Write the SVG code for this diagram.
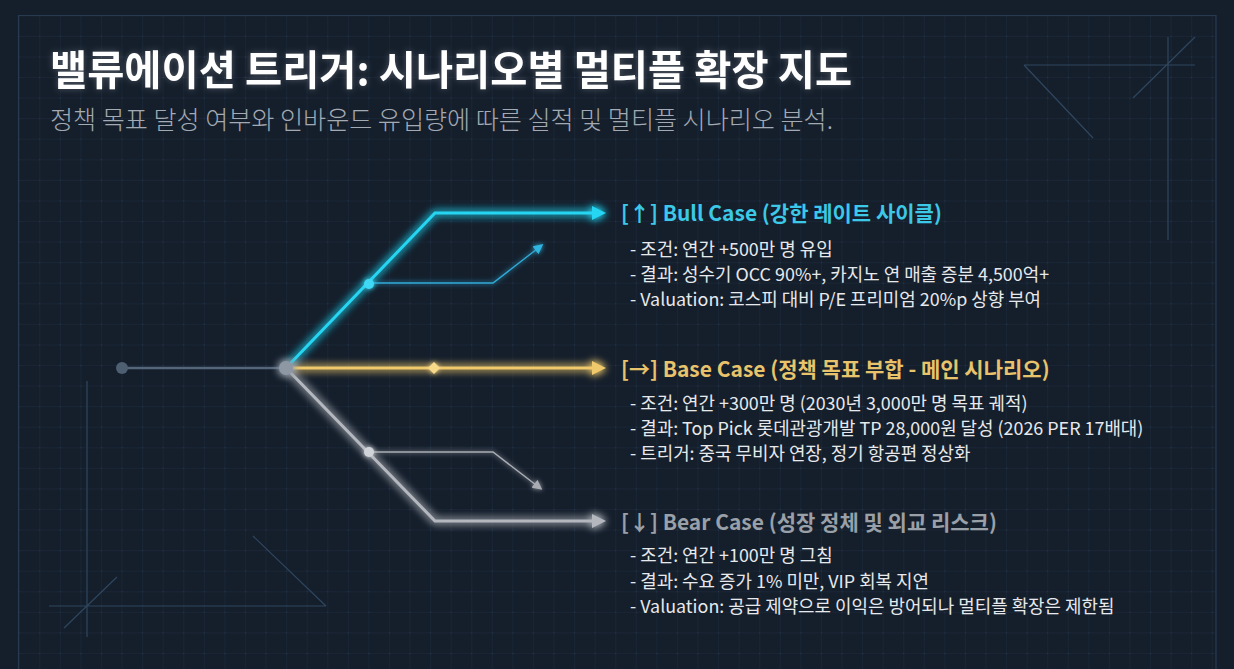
<svg xmlns="http://www.w3.org/2000/svg" width="1234" height="669" viewBox="0 0 1234 669">
  <defs>
    <pattern id="grid" patternUnits="userSpaceOnUse" x="18.7" y="15.3" width="20.57" height="20.57">
      <path d="M0,0 H20.57 M0,0 V20.57" fill="none" stroke="#22334a" stroke-width="1" opacity="0.55"/>
      <circle cx="0" cy="0" r="1" fill="#2c4058"/>
    </pattern>
    <clipPath id="frameClip"><rect x="18.5" y="15.5" width="1197.5" height="660"/></clipPath>
    <filter id="glow" filterUnits="userSpaceOnUse" x="0" y="0" width="1234" height="669">
      <feGaussianBlur stdDeviation="4" result="b"/>
      <feMerge><feMergeNode in="b"/><feMergeNode in="b"/><feMergeNode in="SourceGraphic"/></feMerge>
    </filter>
    <filter id="soft" filterUnits="userSpaceOnUse" x="0" y="0" width="1234" height="669">
      <feGaussianBlur stdDeviation="2.5" result="b"/>
      <feMerge><feMergeNode in="b"/><feMergeNode in="SourceGraphic"/></feMerge>
    </filter>
    <filter id="tglow" filterUnits="userSpaceOnUse" x="0" y="0" width="1234" height="669">
      <feGaussianBlur in="SourceAlpha" stdDeviation="3" result="b"/>
      <feFlood flood-color="#ffffff" flood-opacity="0.25"/>
      <feComposite in2="b" operator="in" result="g"/>
      <feMerge><feMergeNode in="g"/><feMergeNode in="SourceGraphic"/></feMerge>
    </filter>
    <marker id="arBull" markerUnits="userSpaceOnUse" viewBox="0 0 14 14" markerWidth="14" markerHeight="14" refX="2" refY="7" orient="auto"><path d="M0,0 L14,7 L0,14 z" fill="#25d5f2"/></marker>
    <marker id="arBase" markerUnits="userSpaceOnUse" viewBox="0 0 14 14" markerWidth="14" markerHeight="14" refX="2" refY="7" orient="auto"><path d="M0,0 L14,7 L0,14 z" fill="#f0c96c"/></marker>
    <marker id="arBear" markerUnits="userSpaceOnUse" viewBox="0 0 14 14" markerWidth="14" markerHeight="14" refX="2" refY="7" orient="auto"><path d="M0,0 L14,7 L0,14 z" fill="#b4b8be"/></marker>
    <marker id="arBullS" markerUnits="userSpaceOnUse" viewBox="0 0 10 10" markerWidth="10" markerHeight="10" refX="2" refY="5" orient="auto"><path d="M0,0 L10,5 L0,10 z" fill="#2fb6e0"/></marker>
    <marker id="arBearS" markerUnits="userSpaceOnUse" viewBox="0 0 10 10" markerWidth="10" markerHeight="10" refX="2" refY="5" orient="auto"><path d="M0,0 L10,5 L0,10 z" fill="#a9adb3"/></marker>
  </defs>
  <style>
    .deco { fill: none; stroke: #2f465f; stroke-width: 1.2; }
    .kr { font-family: "Noto Sans CJK KR", "Noto Sans", sans-serif; }
    .title { font-size: 40.4px; font-weight: 700; fill: #ffffff; }
    .sub { font-size: 25.1px; font-weight: 300; fill: #a3aab3; }
    .hdr { font-size: 21px; font-weight: 700; }
    .body { font-size: 17.9px; font-weight: 400; fill: #e7e9ec; }
    .bull { fill: #3cc9e7; }
    .base { fill: #e8c36b; }
    .bear { fill: #9aa0a8; }
    .lnBull { fill: none; stroke: #25d5f2; stroke-width: 3; stroke-linejoin: miter; }
    .lnBase { fill: none; stroke: #f0c96c; stroke-width: 3; }
    .lnBear { fill: none; stroke: #b4b8be; stroke-width: 3; }
    .brBull { fill: none; stroke: #2fa9d6; stroke-width: 1.5; }
    .brBear { fill: none; stroke: #a9adb3; stroke-width: 1.5; }
  </style>

  <rect width="1234" height="669" fill="#151f2c"/>
  <g id="background">
    <rect x="18.5" y="15.5" width="1197.5" height="660" fill="url(#grid)" clip-path="url(#frameClip)"/>
    <path d="M18.5,669 V15.5 H1216 V669" fill="none" stroke="#283a50" stroke-width="1.2"/>
    <g id="deco-top-right">
      <path class="deco" d="M1024,65 H1195 M1024,65 L1093,138 M1168,37 V240 M1133,98 L1195,37"/>
    </g>
    <g id="deco-bottom-left">
      <path class="deco" d="M49,606 H326 M253,536 L326,606 M87,381 V637 M64,628 L117,577"/>
    </g>
  </g>

  <g id="header">
    <text class="kr title" x="50" y="85" filter="url(#tglow)">밸류에이션 트리거: 시나리오별 멀티플 확장 지도</text>
    <text class="kr sub" x="50" y="129">정책 목표 달성 여부와 인바운드 유입량에 따른 실적 및 멀티플 시나리오 분석.</text>
  </g>

  <g id="connectors">
    <path d="M122,368 H286" fill="none" stroke="#56667a" stroke-width="2.5"/>
    <g filter="url(#glow)">
      <path class="lnBull" d="M286,368 L435,213 H594" marker-end="url(#arBull)"/>
      <path class="lnBase" d="M286,368 H594" marker-end="url(#arBase)"/>
      <path class="lnBear" d="M286,368 L435,521 H594" marker-end="url(#arBear)"/>
    </g>
    <g filter="url(#soft)">
      <path class="brBull" d="M369,283 H493 L537,249" marker-end="url(#arBullS)"/>
      <path class="brBear" d="M369,452 H493 L536,485" marker-end="url(#arBearS)"/>
    </g>
  </g>

  <g id="node-start">
    <circle cx="122" cy="368" r="6" fill="#4f5f72"/>
  </g>
  <g id="node-hub" filter="url(#glow)">
    <circle cx="286" cy="368" r="7" fill="#8d98a4"/>
  </g>
  <g id="node-bull-mid" filter="url(#soft)">
    <circle cx="369" cy="284" r="5" fill="#3fd9f5"/>
  </g>
  <g id="node-base-mid" filter="url(#soft)">
    <path d="M434,362 L440,368 L434,374 L428,368 z" fill="#f7d98a"/>
  </g>
  <g id="node-bear-mid" filter="url(#soft)">
    <circle cx="369" cy="452" r="5" fill="#d0d3d7"/>
  </g>

  <g id="bull-case">
    <text class="kr hdr bull" x="621" y="221">[↑] Bull Case (강한 레이트 사이클)</text>
    <text class="kr body" x="630" y="256">- 조건: 연간 +500만 명 유입</text>
    <text class="kr body" x="630" y="281">- 결과: 성수기 OCC 90%+, 카지노 연 매출 증분 4,500억+</text>
    <text class="kr body" x="630" y="306">- Valuation: 코스피 대비 P/E 프리미엄 20%p 상향 부여</text>
  </g>
  <g id="base-case">
    <text class="kr hdr base" x="621" y="377">[→] Base Case (정책 목표 부합 - 메인 시나리오)</text>
    <text class="kr body" x="630" y="410">- 조건: 연간 +300만 명 (2030년 3,000만 명 목표 궤적)</text>
    <text class="kr body" x="630" y="435">- 결과: Top Pick 롯데관광개발 TP 28,000원 달성 (2026 PER 17배대)</text>
    <text class="kr body" x="630" y="460">- 트리거: 중국 무비자 연장, 정기 항공편 정상화</text>
  </g>
  <g id="bear-case">
    <text class="kr hdr bear" x="621" y="530">[↓] Bear Case (성장 정체 및 외교 리스크)</text>
    <text class="kr body" x="630" y="562">- 조건: 연간 +100만 명 그침</text>
    <text class="kr body" x="630" y="588">- 결과: 수요 증가 1% 미만, VIP 회복 지연</text>
    <text class="kr body" x="630" y="613">- Valuation: 공급 제약으로 이익은 방어되나 멀티플 확장은 제한됨</text>
  </g>
</svg>
